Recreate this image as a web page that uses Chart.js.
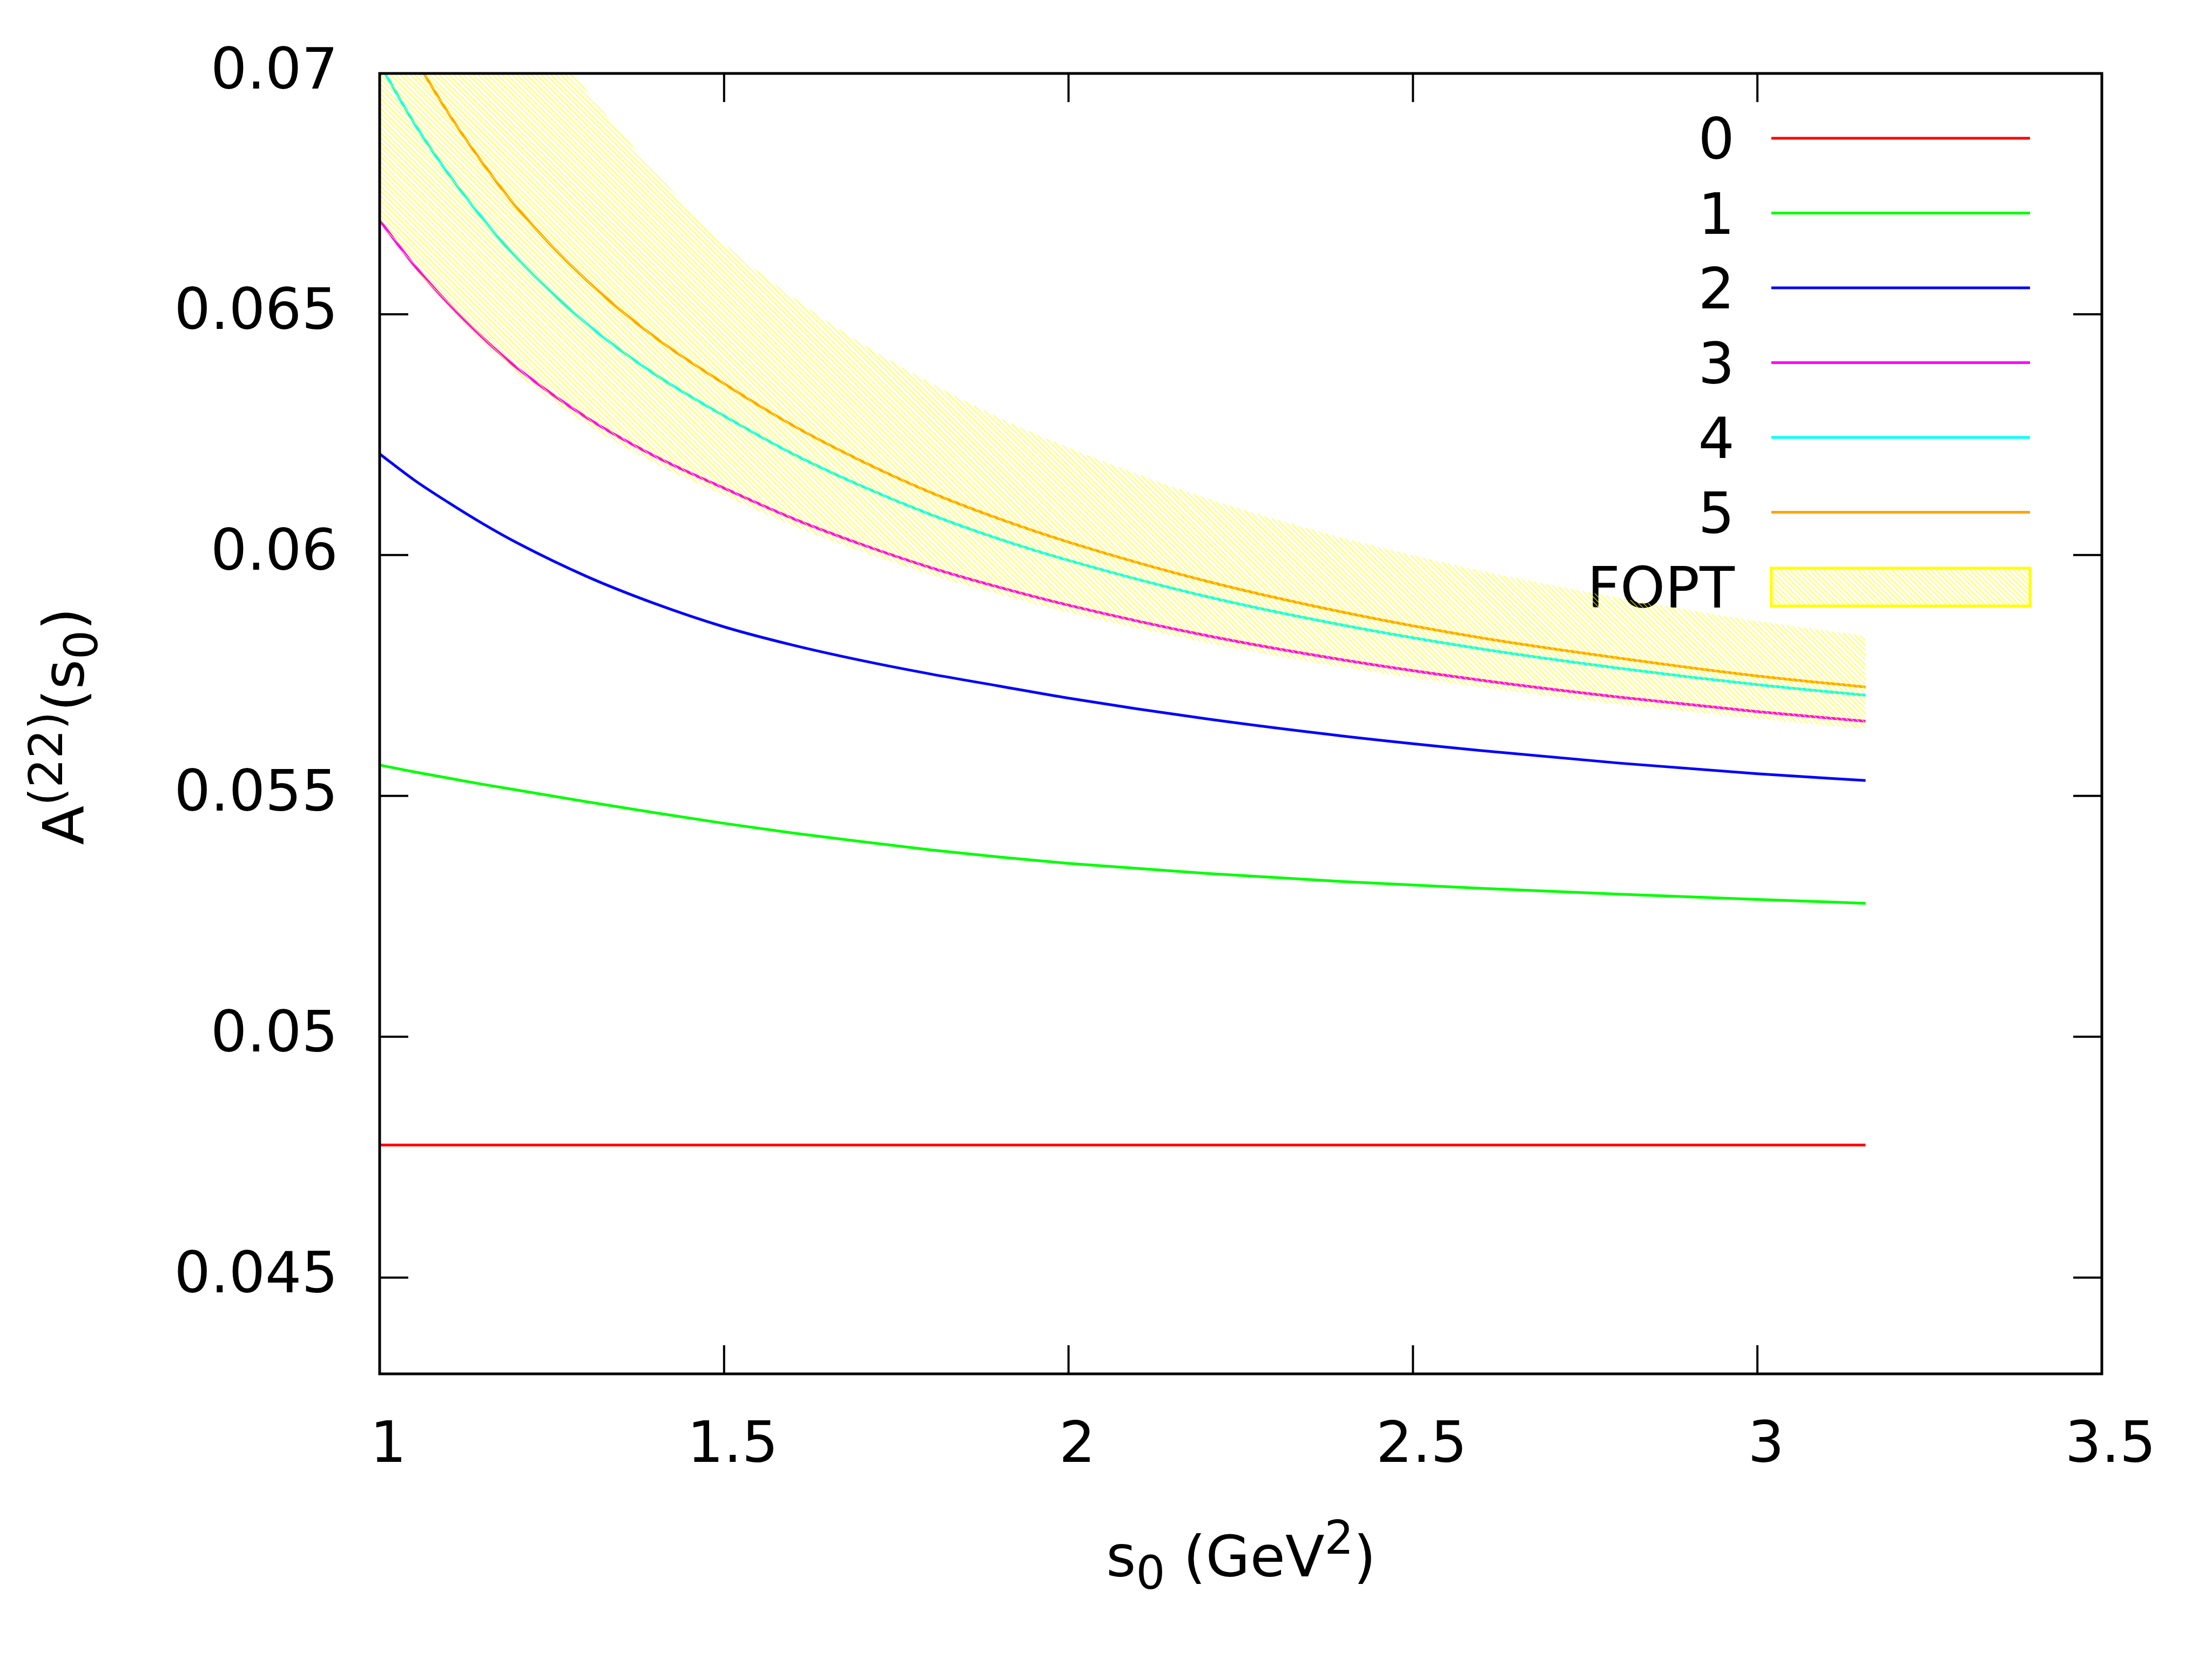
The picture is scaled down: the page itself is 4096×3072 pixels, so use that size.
<!DOCTYPE html>
<html><head><meta charset="utf-8">
<script src="https://cdn.jsdelivr.net/npm/chart.js@4.4.1/dist/chart.umd.min.js"></script>
<style>html,body{margin:0;padding:0;background:#fff;} #wrap{width:4096px;height:3072px;}</style>
</head><body><div id="wrap"><canvas id="c" width="4096" height="3072"></canvas></div>
<script>
// ---- data ----
const s0 = [1.0, 1.05, 1.1, 1.15, 1.2, 1.3, 1.4, 1.5, 1.6, 1.7, 1.8, 1.9, 2.0, 2.2, 2.4, 2.6, 2.8, 3.0, 3.157];
const order0 = [0.04775, 0.04775, 0.04775, 0.04775, 0.04775, 0.04775, 0.04775, 0.04775, 0.04775, 0.04775, 0.04775, 0.04775, 0.04775, 0.04775, 0.04775, 0.04775, 0.04775, 0.04775, 0.04775];
const order1 = [0.05564, 0.0555, 0.05537, 0.05524, 0.05512, 0.05488, 0.05465, 0.05443, 0.05423, 0.05405, 0.05388, 0.05373, 0.0536, 0.05339, 0.05322, 0.05308, 0.05296, 0.05285, 0.05277];
const order2 = [0.0621, 0.06156, 0.06109, 0.06065, 0.06025, 0.05956, 0.05899, 0.05851, 0.05813, 0.05781, 0.05753, 0.05728, 0.05703, 0.0566, 0.05624, 0.05594, 0.05568, 0.05546, 0.05532];
const order3 = [0.06695, 0.06602, 0.06522, 0.06451, 0.06388, 0.06286, 0.06205, 0.06139, 0.06076, 0.06022, 0.05974, 0.05933, 0.05896, 0.05833, 0.05782, 0.0574, 0.05705, 0.05675, 0.05655];
const order4 = [0.0702, 0.06897, 0.06791, 0.06698, 0.06615, 0.06481, 0.06375, 0.06289, 0.0621, 0.06143, 0.06084, 0.06033, 0.05989, 0.05914, 0.05854, 0.05805, 0.05765, 0.05731, 0.05709];
const order5 = [0.07174, 0.07036, 0.06917, 0.06813, 0.0672, 0.06571, 0.06452, 0.06356, 0.06269, 0.06195, 0.0613, 0.06075, 0.06027, 0.05946, 0.05881, 0.05828, 0.05786, 0.05749, 0.05726];
const foptUpper = [0.0771, 0.0755, 0.074, 0.07275, 0.07155, 0.06965, 0.06795, 0.06647, 0.06535, 0.06439, 0.06357, 0.06285, 0.06223, 0.06118, 0.06035, 0.05967, 0.05911, 0.05863, 0.05832];
const foptLower = [0.06693, 0.06597, 0.06514, 0.06441, 0.06376, 0.06272, 0.0619, 0.06124, 0.06061, 0.06007, 0.05959, 0.05918, 0.05881, 0.05818, 0.05767, 0.05725, 0.0569, 0.0566, 0.05639];

const seriesLabels = ['0', '1', '2', '3', '4', '5'];
const bandLabel = 'FOPT';
const seriesColors = ['#ff0000', '#00ff00', '#0000ff', '#ff00ff', '#00ffff', '#ffa500'];
const bandColor = '#ffff00';

const xTicks = [1, 1.5, 2, 2.5, 3, 3.5];
const xTickLabels = ['1', '1.5', '2', '2.5', '3', '3.5'];
const yTicks = [0.045, 0.05, 0.055, 0.06, 0.065, 0.07];
const yTickLabels = ['0.045', '0.05', '0.055', '0.06', '0.065', '0.07'];

// ---- rendering ----
const FONT = "'DejaVu Sans', sans-serif";
const FS = 106;
const SUB = 85;

const canvas = document.getElementById('c');
const ctx = canvas.getContext('2d');

function makeHatch(context) {
  const s = 9;
  const c = document.createElement('canvas');
  c.width = s; c.height = s;
  const g = c.getContext('2d');
  g.strokeStyle = bandColor;
  g.lineWidth = 1.1;
  g.beginPath();
  g.moveTo(-2, -2); g.lineTo(s + 2, s + 2);
  g.moveTo(-2, s - 2); g.lineTo(2, s + 2);
  g.moveTo(s - 2, -2); g.lineTo(s + 2, 2);
  g.stroke();
  return context.createPattern(c, 'repeat');
}
const hatch = makeHatch(ctx);

const pts = arr => s0.map((x, i) => ({ x: x, y: arr[i] }));
const seriesData = [order0, order1, order2, order3, order4, order5];

const datasets = [
  { label: bandLabel, data: pts(foptUpper), borderWidth: 0, borderColor: 'rgba(0,0,0,0)',
    backgroundColor: hatch, fill: '+1', pointRadius: 0, cubicInterpolationMode: 'monotone' },
  { label: bandLabel + '_lo', data: pts(foptLower), borderWidth: 0, borderColor: 'rgba(0,0,0,0)',
    fill: false, pointRadius: 0, cubicInterpolationMode: 'monotone' }
];
seriesData.forEach((arr, i) => {
  datasets.push({ label: seriesLabels[i], data: pts(arr), borderColor: seriesColors[i], borderWidth: 5,
    fill: false, pointRadius: 0, cubicInterpolationMode: 'monotone' });
});

const frame = {
  id: 'frame',
  beforeDatasetsDraw(chart) {
    const c = chart.ctx;
    c.save();
    c.font = FS + 'px ' + FONT;
    c.fillStyle = '#000';
    c.textAlign = 'right';
    c.textBaseline = 'alphabetic';
    const y0 = 256, dy = 138.5, tx = 3212, lx0 = 3280, lx1 = 3759;
    seriesLabels.forEach((lab, i) => {
      const y = y0 + i * dy;
      c.fillText(lab, tx, y + 38);
      c.strokeStyle = seriesColors[i];
      c.lineWidth = 5;
      c.beginPath(); c.moveTo(lx0, y); c.lineTo(lx1, y); c.stroke();
    });
    const yb = y0 + 6 * dy;
    c.fillText(bandLabel, tx, yb + 38);
    c.fillStyle = hatch;
    c.fillRect(lx0, yb - 35, lx1 - lx0, 70);
    c.strokeStyle = bandColor;
    c.lineWidth = 5;
    c.strokeRect(lx0, yb - 35, lx1 - lx0, 70);
    c.restore();
  },
  afterDatasetsDraw(chart) {
    const c = chart.ctx;
    const a = chart.chartArea;
    const xs = chart.scales.x, ys = chart.scales.y;
    c.save();
    c.strokeStyle = '#000';
    c.lineWidth = 4;
    const tl = 53;
    c.beginPath();
    xTicks.forEach(v => {
      const p = xs.getPixelForValue(v);
      c.moveTo(p, a.bottom); c.lineTo(p, a.bottom - tl);
      c.moveTo(p, a.top); c.lineTo(p, a.top + tl);
    });
    yTicks.forEach(v => {
      const p = ys.getPixelForValue(v);
      c.moveTo(a.left, p); c.lineTo(a.left + tl, p);
      c.moveTo(a.right, p); c.lineTo(a.right - tl, p);
    });
    c.stroke();
    c.lineWidth = 5;
    c.strokeRect(a.left, a.top, a.right - a.left, a.bottom - a.top);
    c.restore();
  },
  afterDraw(chart) {
    const c = chart.ctx;
    c.save();
    c.fillStyle = '#000';
    c.textBaseline = 'alphabetic';
    c.textAlign = 'left';
    function rich(parts, cx, cy, rot) {
      let w = 0;
      parts.forEach(p => { c.font = p[1] + 'px ' + FONT; w += c.measureText(p[0]).width; });
      c.save();
      c.translate(cx, cy);
      if (rot) c.rotate(rot);
      let x = -w / 2;
      parts.forEach(p => {
        c.font = p[1] + 'px ' + FONT;
        c.fillText(p[0], x, p[2]);
        x += c.measureText(p[0]).width;
      });
      c.restore();
    }
    rich([['s', FS, 0], ['0', SUB, 23], [' (GeV', FS, 0], ['2', SUB, -42], [')', FS, 0]], 2298, 2919, 0);
    rich([['A', FS, 0], ['(22)', SUB, -40], ['(s', FS, 0], ['0', SUB, 25], [')', FS, 0]], 155, 1345, -Math.PI / 2);
    c.restore();
  }
};

new Chart(ctx, {
  type: 'line',
  data: { datasets: datasets },
  options: {
    responsive: false,
    animation: false,
    devicePixelRatio: 1,
    layout: { padding: { left: 0, top: 136, right: 204, bottom: 0 } },
    plugins: { legend: { display: false }, tooltip: { enabled: false }, title: { display: false } },
    scales: {
      x: {
        type: 'linear', min: 1, max: 3.5,
        grid: { display: false, drawTicks: false },
        border: { display: false },
        afterBuildTicks: s => { s.ticks = xTicks.map(v => ({ value: v })); },
        afterFit: s => { s.height = 528; s.paddingLeft = 0; s.paddingRight = 0; s.paddingTop = 0; s.paddingBottom = 0; },
        ticks: {
          autoSkip: false, maxRotation: 0, minRotation: 0, padding: 72, labelOffset: 16,
          color: '#000', font: { family: FONT, size: FS },
          callback: (v, i) => xTickLabels[i]
        }
      },
      y: {
        type: 'linear', min: 0.043, max: 0.07,
        grid: { display: false, drawTicks: false },
        border: { display: false },
        afterBuildTicks: s => { s.ticks = yTicks.map(v => ({ value: v })); },
        afterFit: s => { s.width = 703; s.paddingLeft = 0; s.paddingRight = 0; s.paddingTop = 0; s.paddingBottom = 0; },
        ticks: {
          autoSkip: false, padding: 77,
          color: '#000', font: { family: FONT, size: FS },
          callback: (v, i) => yTickLabels[i]
        }
      }
    }
  },
  plugins: [frame]
});
</script>
</body></html>
